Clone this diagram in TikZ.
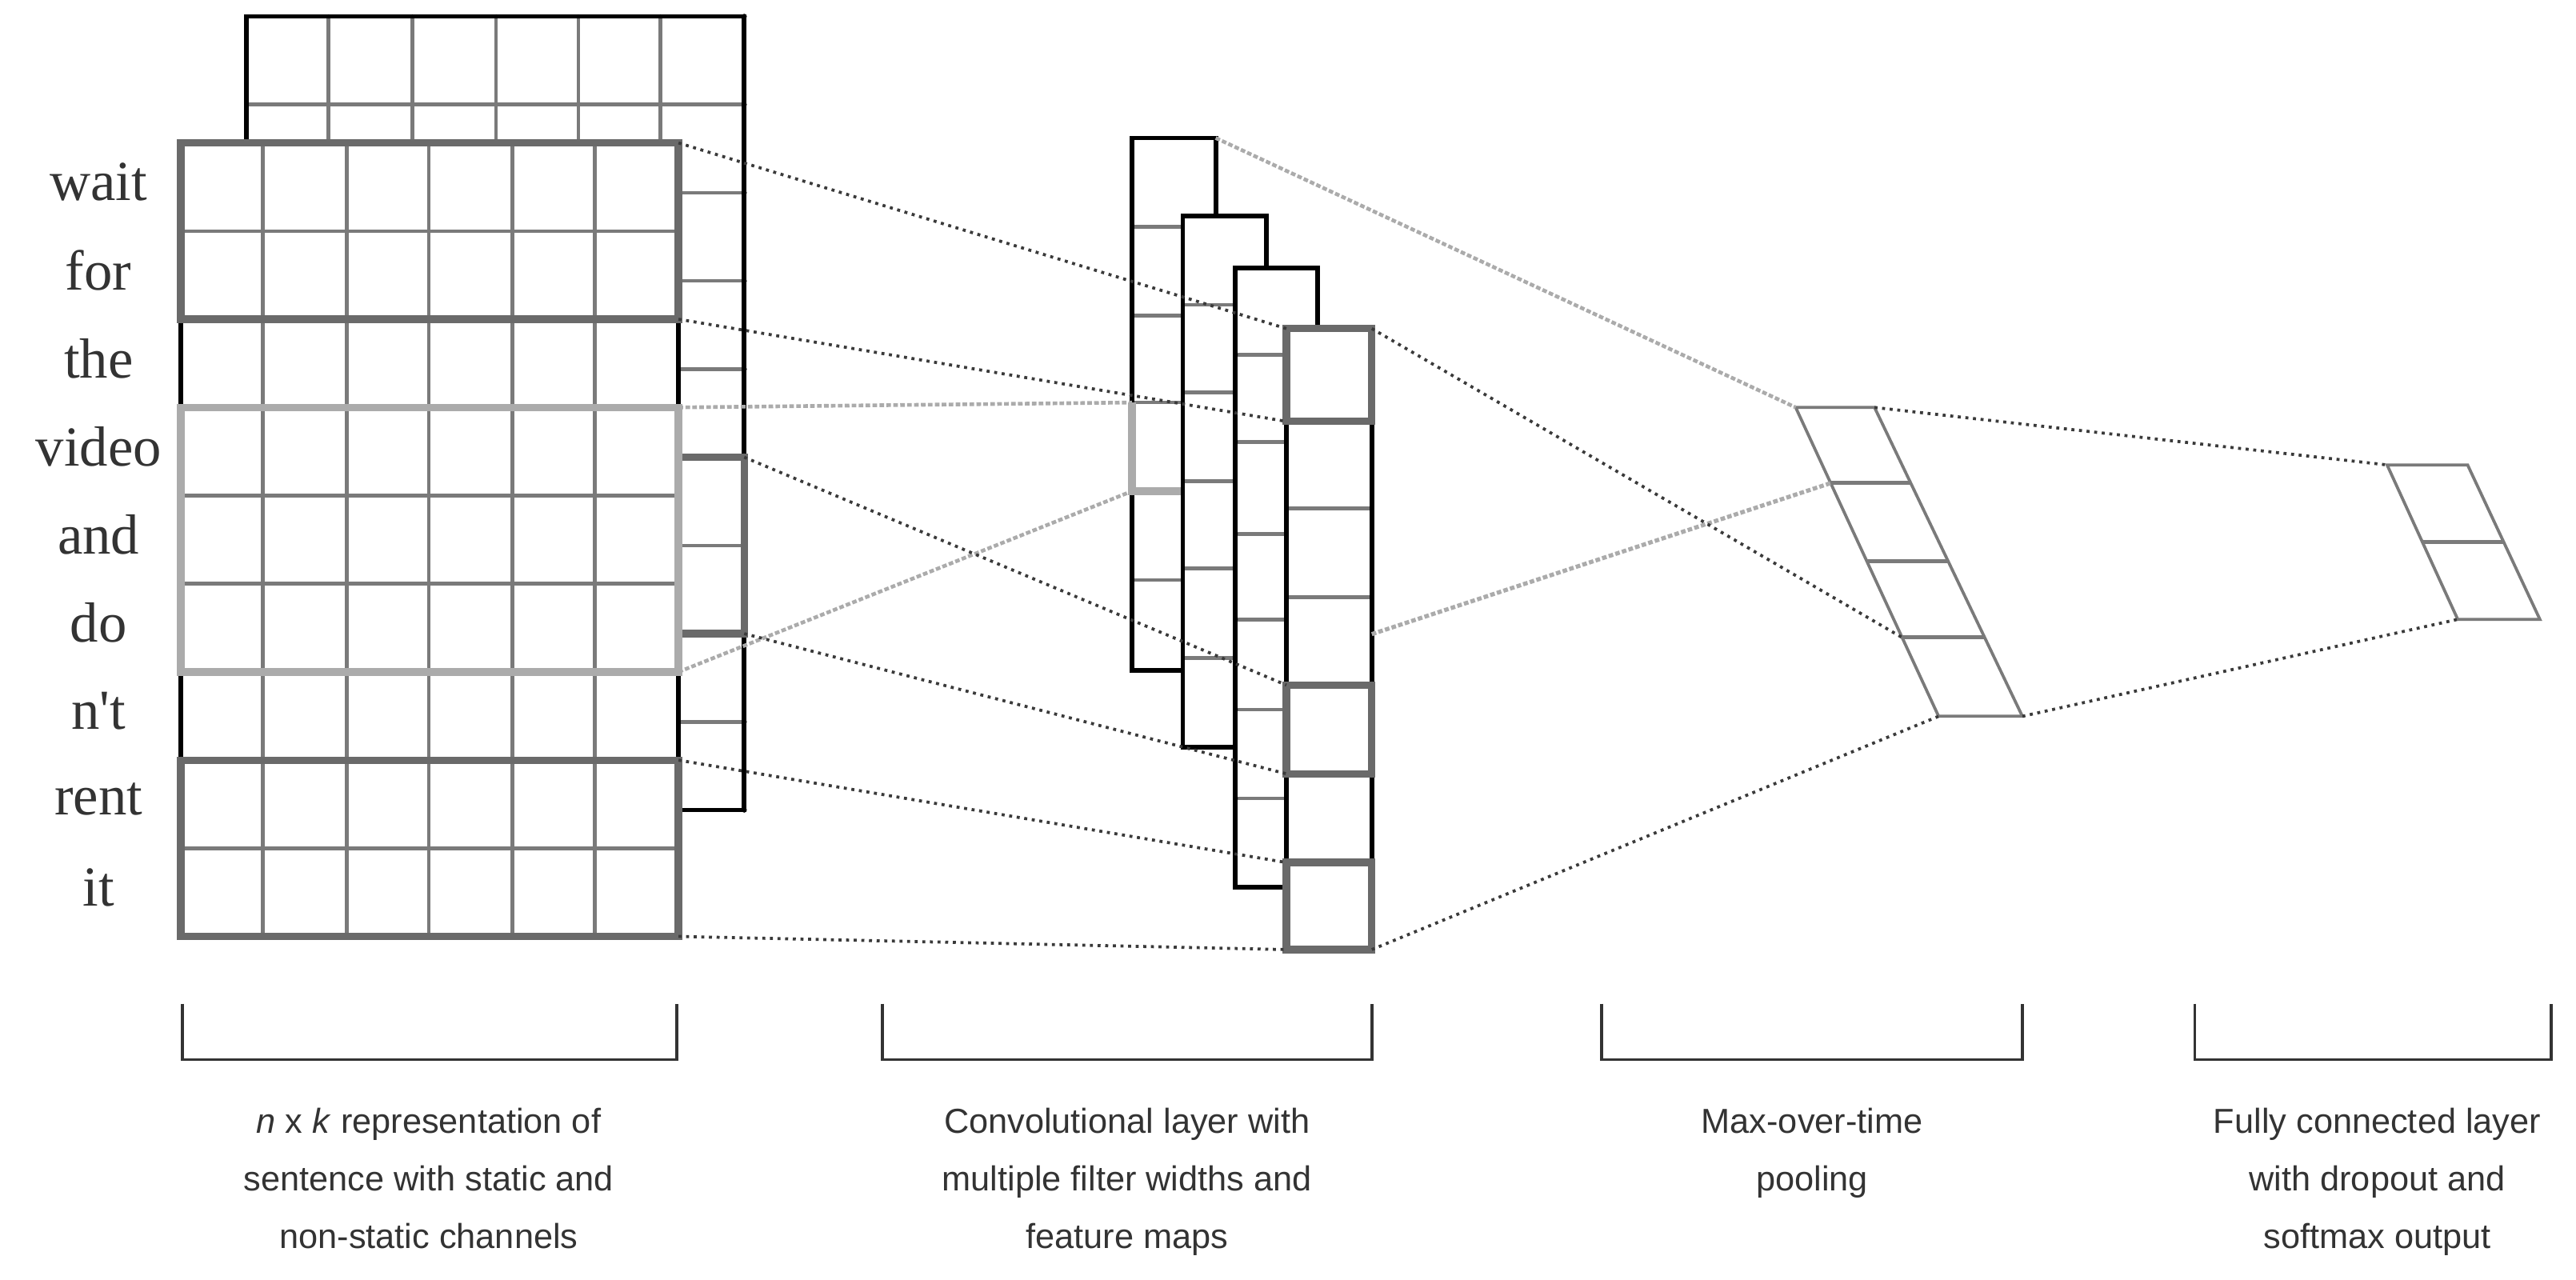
\documentclass[tikz,border=0pt]{standalone}
\usepackage{fontspec}
\setmainfont{Liberation Serif}
\newfontfamily\wordfont{Liberation Serif}[Ligatures=ResetAll]
\newfontfamily\capfont{Liberation Sans}
\usetikzlibrary{calc}
\definecolor{gridg}{HTML}{7A7A7A}
\definecolor{darkg}{HTML}{6A6A6A}
\definecolor{lightg}{HTML}{ABABAB}
\definecolor{dotc}{HTML}{3A3A3A}
\tikzset{
  gl/.style={gridg,line width=3.2pt},
  outl/.style={black,line width=4pt},
  hid/.style={darkg,line width=6.5pt},
  hil/.style={lightg,line width=6.5pt},
  dotl/.style={dotc,line width=2.6pt,dash pattern=on 2.6pt off 4pt},
  grayl/.style={lightg,line width=3.2pt,dash pattern=on 4pt off 2pt},
  pl/.style={gridg,line width=2.6pt},
  word/.style={font=\wordfont\fontsize{49}{49}\selectfont,text=black!80,anchor=center},
  captxt/.style={font=\capfont\fontsize{30}{50}\selectfont,text=black!80,align=center,anchor=north},
  brk/.style={black!80,line width=2.6pt},
}
\begin{document}
\begin{tikzpicture}[x=0.05cm,y=-0.05cm]
\useasboundingbox (0,0) rectangle (1568,779);
% back channel
\fill[white] (150,10) rectangle (453,493);
\foreach \x in {200,251,302,352,402} \draw[gl] (\x,10) -- (\x,493);
\foreach \i in {1,...,8} \draw[gl] (150,{10+\i*53.67}) -- (453,{10+\i*53.67});
\draw[outl] (150,10) rectangle (453,493);
\foreach \i in {0,...,9} \fill (453,{10+\i*53.67}) circle (1.6);
\foreach \x in {200,251,302,352,402} \fill (\x,10) circle (1.3);
% back strip highlight
\draw[hid] (413,278.3) -- (453,278.3) -- (453,385.7) -- (413,385.7);
% front channel
\fill[white] (110,87) rectangle (413,570);
\foreach \x in {160,211,261,312,362} \draw[gl] (\x,87) -- (\x,570);
\foreach \i in {1,...,8} \draw[gl] (110,{87+\i*53.67}) -- (413,{87+\i*53.67});
\draw[outl] (110,87) rectangle (413,570);
\draw[hid] (110,87) rectangle (413,194.3);
\draw[hid] (110,462.7) rectangle (413,570);
\draw[hil] (110,248) rectangle (413,409);
% words
\foreach \w [count=\i from 0] in {wait,for,the,video,and,do,n't,rent,it}
  \node[word] (w\i) at (60,{87+26.8+\i*53.67-3}) {\w};
% named anchor points
\coordinate (f0) at (413,87);
\coordinate (f1) at (413,194.3);
\coordinate (f2) at (413,248);
\coordinate (f3) at (413,409);
\coordinate (f4) at (453,278.3);
\coordinate (f5) at (453,385.7);
\coordinate (f6) at (413,462.7);
\coordinate (f7) at (413,570);
% map 1
\fill[white] (689,84) rectangle (740,408);
\foreach \y in {138,192,245,299,353} \draw[gl] (689,\y) -- (740,\y);
\draw[outl] (689,84) rectangle (740,408);
\draw[hil] (689,245) -- (689,299) -- (740,299);
% map 2
\fill[white] (720,131.6) rectangle (771,455);
\foreach \y in {185.6,239,293,346,400.6} \draw[gl] (720,\y) -- (771,\y);
\draw[outl] (720,131.6) rectangle (771,455);
% map 3
\fill[white] (752,163) rectangle (802,540);
\foreach \y in {216,269,325,377,432,486} {\draw[gl] (752,\y) -- (802,\y); \fill (752,\y) circle (1.5);}
\draw[outl] (752,163) rectangle (802,540);
% map 4
\fill[white] (783,200) rectangle (835,578);
\foreach \y in {256.5,309.5,363.5,417,471,525} \draw[gl] (783,\y) -- (835,\y);
\draw[outl] (783,200) rectangle (835,578);
\draw[hid] (783,200) rectangle (835,256.5);
\draw[hid] (783,417) rectangle (835,471);
\draw[hid] (783,525) rectangle (835,578);
\coordinate (m1a) at (689,245);
\coordinate (m1b) at (689,299);
\coordinate (m1tr) at (740,84);
\coordinate (c0) at (783,200);
\coordinate (c1) at (783,256.5);
\coordinate (c2) at (783,417);
\coordinate (c3) at (783,471);
\coordinate (c4) at (783,525);
\coordinate (c5) at (783,578);
\coordinate (r0) at (835,200);
\coordinate (r1) at (835,386);
\coordinate (r2) at (835,578);
% connectors input -> conv
\draw[dotl] (f0) -- (c0);
\draw[dotl] (f1) -- (c1);
\draw[grayl] (f2) -- (m1a);
\draw[grayl] (f3) -- (m1b);
\draw[dotl] (f4) -- (c2);
\draw[dotl] (f5) -- (c3);
\draw[dotl] (f6) -- (c4);
\draw[dotl] (f7) -- (c5);
% pooling
\coordinate (ptl) at (1093,248);
\coordinate (ptr) at (1141,248);
\coordinate (pbl) at (1180,436);
\coordinate (pbr) at (1231,436);
\coordinate (p1) at ($(ptl)!0.245!(pbl)$);
\coordinate (p3) at ($(ptl)!0.745!(pbl)$);
\draw[pl] (ptl) -- (ptr) -- (pbr) -- (pbl) -- cycle;
\foreach \t in {0.245,0.497,0.745} \draw[pl,line width=3.4pt] ($(ptl)!\t!(pbl)$) -- ($(ptr)!\t!(pbr)$);
\draw[grayl] (m1tr) -- (ptl);
\draw[grayl,line width=3.6pt] (r1) -- (p1);
\draw[dotl] (r0) -- (p3);
\draw[dotl] (r2) -- (pbl);
% fully connected
\coordinate (qtl) at (1453,283);
\coordinate (qtr) at (1502,283);
\coordinate (qbl) at (1496,377);
\coordinate (qbr) at (1546,377);
\draw[pl] (qtl) -- (qtr) -- (qbr) -- (qbl) -- cycle;
\draw[pl,line width=3.4pt] ($(qtl)!0.5!(qbl)$) -- ($(qtr)!0.5!(qbr)$);
\draw[dotl] (ptr) -- (qtl);
\draw[dotl] (pbr) -- (qbl);
% brackets
\foreach \a/\b in {111/412,537/835,975/1231,1336/1553}
  \draw[brk] (\a,611) -- (\a,645) -- (\b,645) -- (\b,611);
\node[captxt] (t1) at (261,672) {\textit{n} x \textit{k} representation of\\sentence with static and\\non-static channels};
\node[captxt] (t2) at (686,672) {Convolutional layer with\\multiple filter widths and\\feature maps};
\node[captxt] (t3) at (1103,672) {Max-over-time\\pooling};
\node[captxt] (t4) at (1447,672) {Fully connected layer\\with dropout and\\softmax output};
\end{tikzpicture}
\end{document}
